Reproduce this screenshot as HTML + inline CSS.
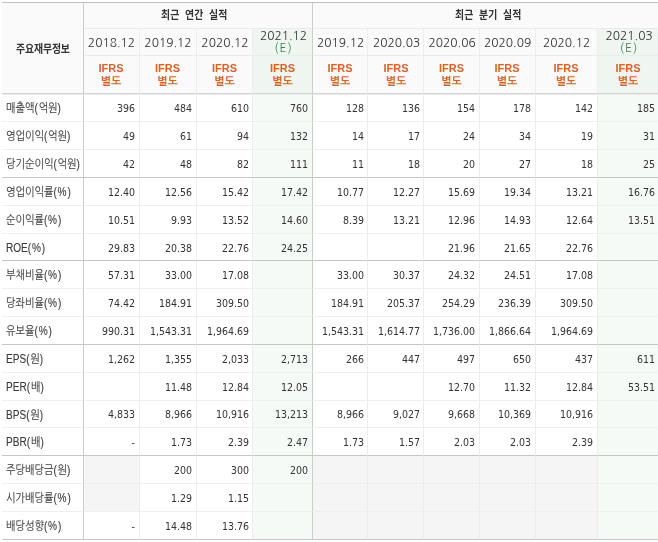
<!DOCTYPE html>
<html lang="ko">
<head>
<meta charset="utf-8">
<title>기업실적분석 - 주요재무정보</title>
<style>
html,body{margin:0;padding:0;background:#fff}
body{width:658px;height:542px;overflow:hidden;position:relative}
table.fin{position:absolute;left:2px;top:2px;border-collapse:separate;border-spacing:0;table-layout:fixed;width:658px;border-top:1px solid #c0c0c0;color:#333}
.fin th,.fin td{padding:0;margin:0;border:0;border-right:1px solid #ededed;border-bottom:1px solid #efefef;vertical-align:top;white-space:nowrap;overflow:visible;font-weight:normal;text-align:left;box-sizing:border-box}
.fin thead th{background:#fafafa;border-bottom-color:#ebebeb}
.fin thead tr.r3 th{border-bottom-color:#d2d2d2}
.fin th.lead{border-right-color:#cdcdcd;border-bottom-color:#d2d2d2}
.fin .sep{border-right-color:#cdcdcd}
.fin thead .est{background:#eff5f0}
.fin tbody .est{background:#f5faf6}
.fin tbody .na{background:#f5f5f5}
.fin tbody th{background:#fff;border-right-color:#cdcdcd}
.fin tbody tr.first>*{border-top:1px solid #ececec}
.fin tbody tr.grp>*{border-bottom-color:#c6c6c6}
.fin tbody tr.last>*{border-bottom-color:#c6c6c6}
.hm{display:block;font-family:"Liberation Sans","Noto Sans CJK KR",sans-serif;font-weight:bold;font-size:11.5px;letter-spacing:-0.15px;transform:scaleX(0.86);transform-origin:0 0;color:#333}
.ttl{letter-spacing:0.3px;word-spacing:2.6px}
.dt{font-family:"NanumGothic","Liberation Sans",sans-serif;font-size:12px;color:#333;text-align:center!important}
.dt .e{display:block;color:#3a8755;letter-spacing:1px;font-style:normal}
.ifrs{font-family:"Liberation Sans","NanumGothic",sans-serif;font-size:11px;font-weight:bold!important;color:#d9622b;text-align:center!important;line-height:13px}
.lb{display:block;font-family:"Liberation Sans","NanumGothic",sans-serif;font-size:12px;transform:scaleX(0.84);transform-origin:0 0;-webkit-text-stroke:0.12px #444;color:#3a3a3a}
.lb i{font-style:normal;letter-spacing:1px}
.fin td{font-family:"DejaVu Sans",sans-serif;font-stretch:condensed;font-size:10.5px;color:#333;text-align:right;padding:8px 4px 0 0}
.fin tbody tr>td:nth-child(4),.fin tbody tr>td:nth-child(6),.fin tbody tr>td:nth-child(7){padding-right:3px}
.fin tbody th{padding:7px 0 0 4px}
.fin tbody tr.first>td,.fin tbody tr.tight>td{padding-top:7px}
.fin tbody tr.first>th{padding-top:6px}
.fin thead tr.r2 th{padding-top:7px}
.fin thead tr.r2 th.est{padding-top:1px;line-height:12px}
.fin thead tr.r3 th{padding-top:6px}

</style>
</head>
<body>
<table class="fin" summary="기업실적분석 - 주요재무정보">
<colgroup><col style="width:82px"><col style="width:56px"><col style="width:57px"><col style="width:56px"><col style="width:60px"><col style="width:55px"><col style="width:56px"><col style="width:56px"><col style="width:56px"><col style="width:62px"><col style="width:62px"></colgroup>
<thead>
<tr class="r1" style="height:26px">
<th class="lead" rowspan="3" scope="col" style="padding:37px 0 0 14px"><strong class="hm">주요재무정보</strong></th>
<th class="sep" colspan="4" scope="col" style="padding:3px 0 0 77px"><strong class="hm ttl">최근 연간 실적</strong></th>
<th colspan="6" scope="col" style="padding:3px 0 0 142px"><strong class="hm ttl">최근 분기 실적</strong></th>
</tr>
<tr class="r2" style="height:27px"><th class="dt" scope="col">2018.12</th><th class="dt" scope="col">2019.12</th><th class="dt" scope="col" style="padding-left:1px">2020.12</th><th class="dt sep est" scope="col" style="padding-left:2px">2021.12<em class="e">(E)</em></th><th class="dt" scope="col" style="padding-left:1px">2019.12</th><th class="dt" scope="col" style="padding-left:2px">2020.03</th><th class="dt" scope="col" style="padding-left:1px">2020.06</th><th class="dt" scope="col">2020.09</th><th class="dt" scope="col">2020.12</th><th class="dt est" scope="col" style="padding-left:1px">2021.03<em class="e">(E)</em></th></tr>
<tr class="r3" style="height:38px"><th class="ifrs" scope="col" style="padding-right:1px">IFRS<br>별도</th><th class="ifrs" scope="col" style="padding-right:1px">IFRS<br>별도</th><th class="ifrs" scope="col">IFRS<br>별도</th><th class="ifrs sep est" scope="col">IFRS<br>별도</th><th class="ifrs" scope="col">IFRS<br>별도</th><th class="ifrs" scope="col" style="padding-left:1px">IFRS<br>별도</th><th class="ifrs" scope="col">IFRS<br>별도</th><th class="ifrs" scope="col" style="padding-right:1px">IFRS<br>별도</th><th class="ifrs" scope="col" style="padding-right:1px">IFRS<br>별도</th><th class="ifrs est" scope="col" style="padding-right:1px">IFRS<br>별도</th></tr>
</thead>
<tbody>
<tr class="first" style="height:28px"><th scope="row"><span class="lb">매출액<i>(</i>억원<i>)</i></span></th><td>396</td><td>484</td><td>610</td><td class="sep est">760</td><td>128</td><td>136</td><td>154</td><td>178</td><td>142</td><td class="est">185</td></tr>
<tr style="height:28px"><th scope="row"><span class="lb">영업이익<i>(</i>억원<i>)</i></span></th><td>49</td><td>61</td><td>94</td><td class="sep est">132</td><td>14</td><td>17</td><td>24</td><td>34</td><td>19</td><td class="est">31</td></tr>
<tr class="grp" style="height:28px"><th scope="row"><span class="lb">당기순이익<i>(</i>억원<i>)</i></span></th><td>42</td><td>48</td><td>82</td><td class="sep est">111</td><td>11</td><td>18</td><td>20</td><td>27</td><td>18</td><td class="est">25</td></tr>
<tr style="height:28px"><th scope="row"><span class="lb">영업이익률<i>(%)</i></span></th><td>12.40</td><td>12.56</td><td>15.42</td><td class="sep est">17.42</td><td>10.77</td><td>12.27</td><td>15.69</td><td>19.34</td><td>13.21</td><td class="est">16.76</td></tr>
<tr style="height:28px"><th scope="row"><span class="lb">순이익률<i>(%)</i></span></th><td>10.51</td><td>9.93</td><td>13.52</td><td class="sep est">14.60</td><td>8.39</td><td>13.21</td><td>12.96</td><td>14.93</td><td>12.64</td><td class="est">13.51</td></tr>
<tr class="grp" style="height:27px"><th scope="row"><span class="lb">ROE<i>(%)</i></span></th><td>29.83</td><td>20.38</td><td>22.76</td><td class="sep est">24.25</td><td></td><td></td><td>21.96</td><td>21.65</td><td>22.76</td><td class="est"></td></tr>
<tr style="height:28px"><th scope="row"><span class="lb">부채비율<i>(%)</i></span></th><td>57.31</td><td>33.00</td><td>17.08</td><td class="sep est"></td><td>33.00</td><td>30.37</td><td>24.32</td><td>24.51</td><td>17.08</td><td class="est"></td></tr>
<tr style="height:28px"><th scope="row"><span class="lb">당좌비율<i>(%)</i></span></th><td>74.42</td><td>184.91</td><td>309.50</td><td class="sep est"></td><td>184.91</td><td>205.37</td><td>254.29</td><td>236.39</td><td>309.50</td><td class="est"></td></tr>
<tr class="grp" style="height:28px"><th scope="row"><span class="lb">유보율<i>(%)</i></span></th><td>990.31</td><td>1,543.31</td><td>1,964.69</td><td class="sep est"></td><td>1,543.31</td><td>1,614.77</td><td>1,736.00</td><td>1,866.64</td><td>1,964.69</td><td class="est"></td></tr>
<tr style="height:28px"><th scope="row"><span class="lb">EPS<i>(</i>원<i>)</i></span></th><td>1,262</td><td>1,355</td><td>2,033</td><td class="sep est">2,713</td><td>266</td><td>447</td><td>497</td><td>650</td><td>437</td><td class="est">611</td></tr>
<tr style="height:28px"><th scope="row"><span class="lb">PER<i>(</i>배<i>)</i></span></th><td></td><td>11.48</td><td>12.84</td><td class="sep est">12.05</td><td></td><td></td><td>12.70</td><td>11.32</td><td>12.84</td><td class="est">53.51</td></tr>
<tr class="tight" style="height:27px"><th scope="row"><span class="lb">BPS<i>(</i>원<i>)</i></span></th><td>4,833</td><td>8,966</td><td>10,916</td><td class="sep est">13,213</td><td>8,966</td><td>9,027</td><td>9,668</td><td>10,369</td><td>10,916</td><td class="est"></td></tr>
<tr class="grp" style="height:28px"><th scope="row"><span class="lb">PBR<i>(</i>배<i>)</i></span></th><td>-</td><td>1.73</td><td>2.39</td><td class="sep est">2.47</td><td>1.73</td><td>1.57</td><td>2.03</td><td>2.03</td><td>2.39</td><td class="est"></td></tr>
<tr style="height:28px"><th scope="row"><span class="lb">주당배당금<i>(</i>원<i>)</i></span></th><td class="na"></td><td>200</td><td>300</td><td class="sep est">200</td><td class="na"></td><td class="na"></td><td class="na"></td><td class="na"></td><td class="na"></td><td class="est"></td></tr>
<tr style="height:28px"><th scope="row"><span class="lb">시가배당률<i>(%)</i></span></th><td class="na"></td><td>1.29</td><td>1.15</td><td class="sep est"></td><td class="na"></td><td class="na"></td><td class="na"></td><td class="na"></td><td class="na"></td><td class="est"></td></tr>
<tr class="last" style="height:28px"><th scope="row"><span class="lb">배당성향<i>(%)</i></span></th><td>-</td><td>14.48</td><td>13.76</td><td class="sep est"></td><td class="na"></td><td class="na"></td><td class="na"></td><td class="na"></td><td class="na"></td><td class="est"></td></tr>
</tbody>
</table>
</body>
</html>
